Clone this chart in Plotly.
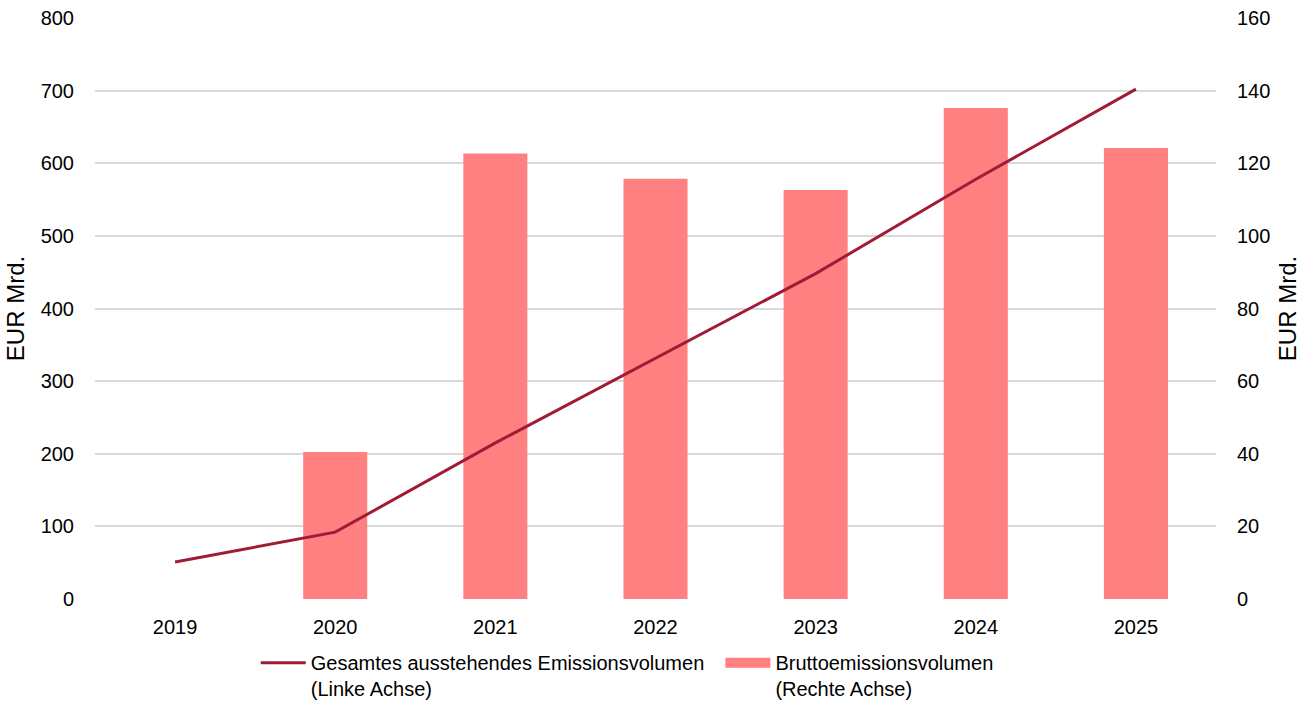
import plotly.graph_objects as go

years = ["2019", "2020", "2021", "2022", "2023", "2024", "2025"]
outstanding = [51, 92, 215, 331, 448, 578, 702]          # left axis, EUR Mrd.
gross_issuance = [None, 40.5, 122.7, 115.7, 112.6, 135.2, 124.2]  # right axis, EUR Mrd.

line_name = "Gesamtes ausstehendes Emissionsvolumen\u00a0\u00a0<br>(Linke Achse)"
bar_name = "Bruttoemissionsvolumen<br>(Rechte Achse)"

FONT = "Liberation Sans, Arial, sans-serif"
LINE_COLOR = "#A01C36"
BAR_COLOR = "#FF8080"

fig = go.Figure()
fig.add_trace(go.Scatter(
    x=years, y=outstanding, name=line_name, mode="lines",
    line=dict(color=LINE_COLOR, width=3), yaxis="y2",
))
fig.add_trace(go.Bar(
    x=years, y=gross_issuance, name=bar_name, showlegend=False,
    marker=dict(color=BAR_COLOR, line=dict(width=0)), yaxis="y",
))
# legend swatch for the bars (wide rectangle like the reference)
fig.add_trace(go.Scatter(
    x=[None], y=[None], name=bar_name, mode="lines",
    line=dict(color=BAR_COLOR, width=13), yaxis="y", hoverinfo="skip",
))

fig.update_layout(
    width=1301, height=703,
    margin=dict(l=95, r=85, t=18, b=103.5, autoexpand=False),
    paper_bgcolor="white", plot_bgcolor="white",
    font=dict(family=FONT, size=20, color="#000000"),
    bargap=0.6,
    showlegend=True,
    legend=dict(
        orientation="h", x=0.1434, xanchor="left", y=-0.076, yanchor="top",
        font=dict(size=20), valign="top", itemwidth=45,
        tracegroupgap=0,
    ),
    xaxis=dict(
        type="category", showgrid=False, zeroline=False, showline=False,
        ticks="", ticklabelstandoff=14, automargin=False,
    ),
    yaxis=dict(
        side="right", range=[0, 160], dtick=20, showgrid=True,
        gridcolor="#D9D9D9", gridwidth=1.5, zeroline=False, showline=False,
        ticks="", ticklabelstandoff=20, automargin=False,
        title=dict(text="EUR Mrd.", standoff=16),
    ),
    yaxis2=dict(
        side="left", overlaying="y", range=[0, 800], dtick=100,
        showgrid=False, zeroline=False, showline=False,
        ticks="", ticklabelstandoff=20, automargin=False,
        title=dict(text="EUR Mrd.", standoff=9),
    ),
)

fig.write_html("out.html")
